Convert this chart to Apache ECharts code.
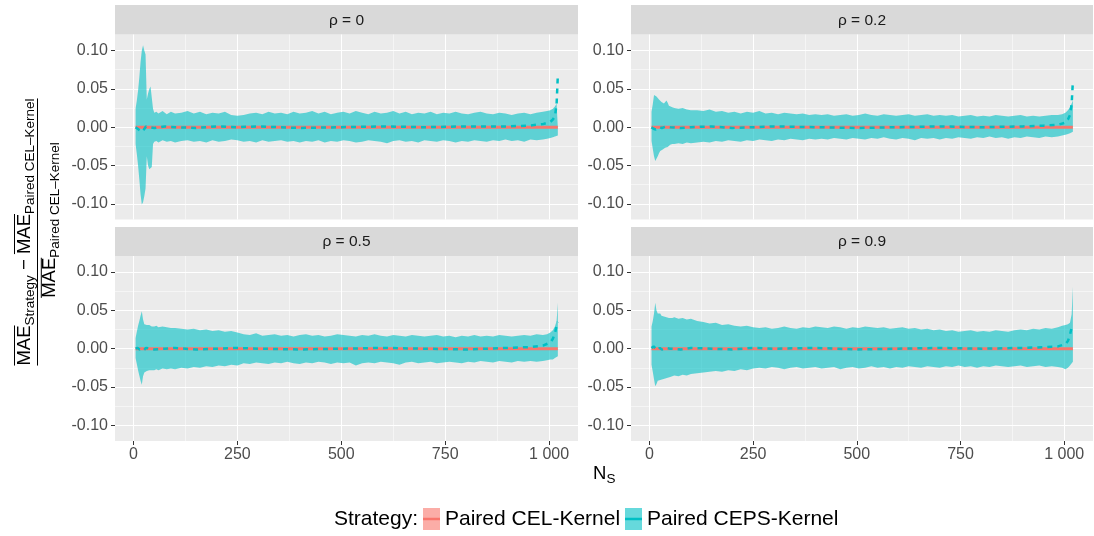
<!DOCTYPE html>
<html>
<head>
<meta charset="utf-8">
<script src="https://cdn.jsdelivr.net/npm/echarts@6.0.0/dist/echarts.min.js"></script>
<style>
  html, body { margin: 0; padding: 0; background: #fff; }
  #chart { width: 1094px; height: 536px; }
</style>
</head>
<body>
<div id="chart"></div>
<script>
// N_S values where the bands were read
var ns = [5, 8, 11, 14, 17, 20, 23, 26, 29, 32, 35, 38, 41, 44, 47, 50, 55, 60, 70, 80, 90, 100,
  115, 130, 145, 160, 175, 190, 205, 220, 235, 250, 265, 280, 295, 310, 325, 340, 355, 370, 385, 400,
  415, 430, 445, 460, 475, 490, 505, 520, 535, 550, 565, 580, 595, 610, 625, 640, 655, 670, 685, 700,
  715, 730, 745, 760, 775, 790, 805, 820, 835, 850, 865, 880, 895, 910, 925, 940, 955, 970,
  985, 995, 1003, 1009, 1014, 1018, 1021];

// rho = 0
var hi0 = [0.024, 0.035, 0.048, 0.065, 0.085, 0.100, 0.107, 0.100, 0.095, 0.036, 0.044, 0.050, 0.053, 0.051, 0.024, 0.019, 0.020, 0.018, 0.021, 0.017, 0.020, 0.018,
  0.019, 0.021, 0.018, 0.020, 0.017, 0.019, 0.018, 0.020, 0.016, 0.015, 0.016, 0.018, 0.019, 0.017, 0.020, 0.018, 0.019, 0.017, 0.020, 0.018,
  0.019, 0.021, 0.018, 0.020, 0.017, 0.019, 0.020, 0.018, 0.021, 0.019, 0.017, 0.020, 0.018, 0.019, 0.021, 0.018, 0.020, 0.017, 0.019, 0.018,
  0.020, 0.017, 0.019, 0.018, 0.020, 0.018, 0.017, 0.019, 0.020, 0.018, 0.017, 0.019, 0.018, 0.016, 0.018, 0.019, 0.017, 0.019,
  0.020, 0.021, 0.022, 0.024, 0.027, 0.031, 0.033];
var lo0 = [-0.022, -0.035, -0.050, -0.068, -0.088, -0.101, -0.098, -0.090, -0.080, -0.038, -0.050, -0.055, -0.056, -0.052, -0.022, -0.019, -0.018, -0.020, -0.017, -0.019, -0.018, -0.020,
  -0.018, -0.017, -0.019, -0.018, -0.020, -0.017, -0.019, -0.018, -0.016, -0.017, -0.019, -0.018, -0.020, -0.017, -0.019, -0.018, -0.017, -0.019, -0.018, -0.020,
  -0.018, -0.019, -0.017, -0.020, -0.018, -0.019, -0.017, -0.018, -0.020, -0.019, -0.017, -0.018, -0.019, -0.021, -0.018, -0.017, -0.019, -0.018, -0.020, -0.017,
  -0.018, -0.019, -0.017, -0.018, -0.020, -0.018, -0.019, -0.017, -0.018, -0.019, -0.017, -0.018, -0.016, -0.018, -0.017, -0.019, -0.016, -0.017,
  -0.016, -0.015, -0.014, -0.013, -0.012, -0.010, -0.011];

// rho = 0.2
var hi1 = [0.020, 0.030, 0.042, 0.044, 0.040, 0.038, 0.036, 0.034, 0.033, 0.032, 0.031, 0.033, 0.035, 0.032, 0.028, 0.027, 0.026, 0.025, 0.024, 0.025, 0.023, 0.022,
  0.022, 0.021, 0.023, 0.020, 0.021, 0.019, 0.020, 0.018, 0.020, 0.019, 0.021, 0.018, 0.019, 0.017, 0.019, 0.018, 0.017, 0.018, 0.016, 0.017,
  0.016, 0.017, 0.015, 0.016, 0.017, 0.015, 0.016, 0.018, 0.016, 0.015, 0.017, 0.016, 0.015, 0.016, 0.017, 0.015, 0.016, 0.017, 0.015, 0.016,
  0.015, 0.016, 0.014, 0.015, 0.016, 0.014, 0.015, 0.014, 0.016, 0.015, 0.014, 0.015, 0.016, 0.014, 0.015, 0.014, 0.015, 0.016,
  0.016, 0.017, 0.019, 0.022, 0.026, 0.031, 0.035];
var lo1 = [-0.018, -0.028, -0.038, -0.044, -0.045, -0.038, -0.034, -0.031, -0.030, -0.029, -0.028, -0.027, -0.026, -0.026, -0.024, -0.023, -0.022, -0.022, -0.021, -0.022, -0.020, -0.021,
  -0.020, -0.019, -0.020, -0.018, -0.019, -0.017, -0.018, -0.019, -0.017, -0.018, -0.016, -0.017, -0.018, -0.016, -0.017, -0.015, -0.016, -0.017, -0.015, -0.016,
  -0.015, -0.016, -0.014, -0.015, -0.016, -0.014, -0.015, -0.016, -0.014, -0.015, -0.013, -0.015, -0.016, -0.014, -0.015, -0.017, -0.014, -0.015, -0.014, -0.016,
  -0.014, -0.015, -0.013, -0.014, -0.015, -0.013, -0.014, -0.012, -0.014, -0.013, -0.015, -0.013, -0.014, -0.012, -0.013, -0.014, -0.012, -0.013,
  -0.012, -0.011, -0.010, -0.009, -0.008, -0.007, -0.006];

// rho = 0.5
var hi2 = [0.014, 0.022, 0.030, 0.036, 0.043, 0.049, 0.038, 0.032, 0.030, 0.031, 0.029, 0.031, 0.030, 0.029, 0.031, 0.029, 0.030, 0.028, 0.029, 0.028, 0.027, 0.027,
  0.026, 0.025, 0.026, 0.024, 0.025, 0.023, 0.024, 0.022, 0.023, 0.021, 0.019, 0.018, 0.020, 0.017, 0.018, 0.019, 0.017, 0.018, 0.016, 0.018,
  0.019, 0.017, 0.018, 0.016, 0.017, 0.019, 0.018, 0.017, 0.016, 0.018, 0.017, 0.019, 0.017, 0.016, 0.018, 0.017, 0.016, 0.018, 0.017, 0.016,
  0.017, 0.018, 0.016, 0.017, 0.015, 0.017, 0.016, 0.018, 0.016, 0.017, 0.016, 0.018, 0.017, 0.016, 0.017, 0.018, 0.017, 0.019,
  0.018, 0.019, 0.021, 0.024, 0.029, 0.036, 0.060];
var lo2 = [-0.012, -0.020, -0.028, -0.035, -0.042, -0.047, -0.036, -0.031, -0.030, -0.029, -0.030, -0.028, -0.029, -0.028, -0.027, -0.028, -0.027, -0.028, -0.026, -0.027, -0.026, -0.027,
  -0.025, -0.026, -0.024, -0.025, -0.023, -0.024, -0.022, -0.023, -0.021, -0.022, -0.019, -0.020, -0.018, -0.019, -0.020, -0.018, -0.019, -0.017, -0.019, -0.020,
  -0.018, -0.019, -0.017, -0.018, -0.020, -0.018, -0.019, -0.018, -0.022, -0.019, -0.018, -0.019, -0.017, -0.018, -0.019, -0.021, -0.018, -0.017, -0.019, -0.018,
  -0.017, -0.019, -0.018, -0.017, -0.018, -0.019, -0.017, -0.018, -0.016, -0.017, -0.018, -0.016, -0.017, -0.018, -0.016, -0.017, -0.016, -0.017,
  -0.016, -0.015, -0.014, -0.014, -0.012, -0.011, -0.010];

// rho = 0.9
var hi3 = [0.029, 0.036, 0.046, 0.060, 0.050, 0.046, 0.044, 0.046, 0.043, 0.045, 0.042, 0.044, 0.041, 0.043, 0.040, 0.042, 0.040, 0.041, 0.039, 0.040, 0.038, 0.039,
  0.036, 0.035, 0.033, 0.034, 0.031, 0.032, 0.030, 0.029, 0.030, 0.028, 0.027, 0.028, 0.026, 0.027, 0.029, 0.027, 0.026, 0.028, 0.027, 0.029,
  0.028, 0.027, 0.029, 0.028, 0.026, 0.028, 0.027, 0.029, 0.028, 0.027, 0.028, 0.026, 0.027, 0.028, 0.026, 0.027, 0.025, 0.026, 0.024, 0.025,
  0.023, 0.024, 0.022, 0.023, 0.024, 0.022, 0.023, 0.022, 0.024, 0.023, 0.022, 0.024, 0.025, 0.024, 0.026, 0.025, 0.027, 0.026,
  0.028, 0.030, 0.031, 0.032, 0.034, 0.045, 0.081];
var lo3 = [-0.021, -0.030, -0.040, -0.049, -0.046, -0.042, -0.040, -0.041, -0.039, -0.040, -0.038, -0.039, -0.037, -0.038, -0.036, -0.037, -0.036, -0.035, -0.036, -0.034, -0.035, -0.033,
  -0.032, -0.031, -0.030, -0.029, -0.030, -0.028, -0.029, -0.027, -0.028, -0.026, -0.025, -0.026, -0.024, -0.025, -0.027, -0.025, -0.024, -0.026, -0.025, -0.024,
  -0.026, -0.025, -0.024, -0.027, -0.025, -0.024, -0.026, -0.025, -0.023, -0.025, -0.024, -0.026, -0.024, -0.025, -0.023, -0.024, -0.025, -0.023, -0.024, -0.025,
  -0.023, -0.024, -0.022, -0.024, -0.023, -0.025, -0.023, -0.024, -0.022, -0.023, -0.024, -0.023, -0.022, -0.024, -0.023, -0.022, -0.024, -0.023,
  -0.024, -0.025, -0.027, -0.025, -0.022, -0.020, -0.017];

// dashed CEPS-Kernel mean lines
var meanNs = [5, 10, 15, 20, 25, 30, 40, 50, 75, 100, 150, 200, 250, 300, 400, 500, 600, 700, 800, 900, 950, 985, 1003, 1009, 1014, 1018, 1021];
var mean0 = [0.000, -0.002, -0.004, -0.006, -0.003, 0.001, 0.000, -0.001, 0.001, 0.000, -0.001, 0.001, 0.000, 0.001, -0.001, 0.000, 0.001, 0.000, 0.001, 0.001, 0.002, 0.004, 0.007, 0.010, 0.014, 0.030, 0.068];
var mean1 = [0.000, -0.002, -0.003, -0.001, 0.000, -0.001, 0.001, 0.000, -0.001, 0.000, 0.001, -0.001, 0.000, 0.001, 0.000, -0.001, 0.000, 0.001, 0.000, 0.001, 0.002, 0.003, 0.006, 0.010, 0.016, 0.030, 0.060];
var mean2 = [0.000, 0.001, -0.001, 0.000, -0.002, 0.001, 0.000, -0.001, 0.000, 0.001, -0.001, 0.000, 0.001, 0.000, -0.001, 0.000, 0.001, 0.000, -0.001, 0.001, 0.002, 0.004, 0.008, 0.013, 0.020, 0.030, 0.035];
var mean3 = [0.001, 0.003, 0.000, -0.002, 0.001, -0.001, 0.001, 0.000, -0.001, 0.001, 0.000, -0.001, 0.001, 0.000, 0.001, -0.001, 0.000, 0.001, 0.000, 0.001, 0.002, 0.003, 0.006, 0.010, 0.018, 0.028, 0.032];

// CEL-Kernel against itself: flat at zero
var celNs = [5, 1021];
var celVal = [0, 0];

var panelLabels = ['ρ = 0', 'ρ = 0.2', 'ρ = 0.5', 'ρ = 0.9'];
var xTicks = [0, 250, 500, 750, 1000];
var xTickLabels = ['0', '250', '500', '750', '1 000'];
var xMinorTicks = [125, 375, 625, 875];
var yTicks = [-0.1, -0.05, 0, 0.05, 0.1];
var yTickLabels = ['-0.10', '-0.05', '0.00', '0.05', '0.10'];
var yMinorTicks = [-0.075, -0.025, 0.025, 0.075];

var FONT = 'Liberation Sans, Arial, Helvetica, sans-serif';
var TEAL = '#00BFC4', RED = '#F8766D';
var bandFill = 'rgba(0,191,196,0.6)';

// left, top, width, height of each panel
var gridPos = [[115, 34.5, 463, 185], [631, 34.5, 462, 185], [115, 256, 463, 185], [631, 256, 462, 185]];
var panelData = [[hi0, lo0, mean0], [hi1, lo1, mean1], [hi2, lo2, mean2], [hi3, lo3, mean3]];

function pairs(xs, ys) {
  return xs.map(function (x, k) { return [x, ys[k]]; });
}
function lookup(vals, labels, v) {
  for (var k = 0; k < vals.length; k++) if (Math.abs(vals[k] - v) < 1e-9) return labels[k];
  return '';
}

var grids = [], xAxes = [], yAxes = [], series = [], graphics = [];

gridPos.forEach(function (g, i) {
  var bottom = i >= 2;
  grids.push({ left: g[0], top: g[1], width: g[2], height: g[3], show: true, backgroundColor: '#EBEBEB', borderWidth: 0 });

  xAxes.push({
    gridIndex: i, type: 'value', min: -44.5, max: 1069.5, position: 'bottom',
    axisLine: { show: false, onZero: false },
    axisTick: { show: bottom, customValues: xTicks, length: 4, lineStyle: { color: '#333333', width: 1 } },
    axisLabel: { show: bottom, customValues: xTicks, color: '#4D4D4D', fontSize: 16, fontFamily: FONT, margin: 6,
      formatter: function (v) { return lookup(xTicks, xTickLabels, v); } },
    splitLine: { show: true, lineStyle: { color: '#FFFFFF', width: 1.1 } }
  });
  xAxes.push({
    gridIndex: i, type: 'value', min: -44.5, max: 1069.5, position: 'top',
    axisLine: { show: false, onZero: false }, axisLabel: { show: false },
    axisTick: { show: false, customValues: xMinorTicks },
    splitLine: { show: true, lineStyle: { color: '#FFFFFF', width: 0.5 } }
  });
  yAxes.push({
    gridIndex: i, type: 'value', min: -0.1205, max: 0.121, position: 'left',
    axisLine: { show: false, onZero: false },
    axisTick: { show: true, customValues: yTicks, length: 4, lineStyle: { color: '#333333', width: 1 } },
    axisLabel: { customValues: yTicks, color: '#4D4D4D', fontSize: 16, fontFamily: FONT, margin: 7,
      formatter: function (v) { return lookup(yTicks, yTickLabels, v); } },
    splitLine: { show: true, lineStyle: { color: '#FFFFFF', width: 1.1 } }
  });
  yAxes.push({
    gridIndex: i, type: 'value', min: -0.1205, max: 0.121, position: 'right',
    axisLine: { show: false, onZero: false }, axisLabel: { show: false },
    axisTick: { show: false, customValues: yMinorTicks },
    splitLine: { show: true, lineStyle: { color: '#FFFFFF', width: 0.5 } }
  });

  var d = panelData[i];
  // ribbon: upper and lower edges each filled to zero
  [d[0], d[1]].forEach(function (edge) {
    series.push({
      type: 'line', name: 'Paired CEPS-Kernel', xAxisIndex: 2 * i, yAxisIndex: 2 * i,
      data: pairs(ns, edge), symbol: 'none', silent: true,
      lineStyle: { opacity: 0 }, areaStyle: { color: bandFill, opacity: 1 }
    });
  });
  series.push({
    type: 'line', name: 'Paired CEL-Kernel', xAxisIndex: 2 * i, yAxisIndex: 2 * i,
    data: pairs(celNs, celVal), symbol: 'none', silent: true,
    lineStyle: { color: RED, width: 3 }
  });
  series.push({
    type: 'line', name: 'Paired CEPS-Kernel', xAxisIndex: 2 * i, yAxisIndex: 2 * i,
    data: pairs(meanNs, d[2]), symbol: 'none', silent: true,
    lineStyle: { color: TEAL, width: 2.5, type: [5, 5] }
  });

  // facet strip
  var stripTop = bottom ? 227 : 5;
  var stripH = g[1] - stripTop;
  graphics.push({ type: 'rect', shape: { x: g[0], y: stripTop, width: g[2], height: stripH }, style: { fill: '#D9D9D9' } });
  graphics.push({ type: 'text', x: g[0] + g[2] / 2, y: stripTop + stripH / 2 + 0.5,
    style: { text: panelLabels[i], font: '15.5px ' + FONT, fill: '#1A1A1A', align: 'center', verticalAlign: 'middle', textAlign: 'center', textVerticalAlign: 'middle' } });
});

// y axis title: (MAE_Strategy - MAE_Paired) / MAE_Paired, rotated
var meas = document.createElement('canvas').getContext('2d');
function tw(s, size) { meas.font = size + 'px ' + FONT; return meas.measureText(s).width; }
var F = 18.5, f = 13.5;
var numParts = [['MAE', F, true], ['Strategy', f, false], [' \u2212 ', F, false], ['MAE', F, true], ['Paired CEL\u2013Kernel', f, false]];
var denParts = [['MAE', F, true], ['Paired CEL\u2013Kernel', f, false]];
var titleKids = [];
function addRow(parts, shift, mainY, subY, barY) {
  var total = 0;
  parts.forEach(function (p) { total += tw(p[0], p[1]); });
  var pos = -total / 2 + shift;
  parts.forEach(function (p) {
    var w = tw(p[0], p[1]);
    titleKids.push({ type: 'text', x: pos, y: p[1] === F ? mainY : subY,
      style: { text: p[0], font: p[1] + 'px ' + FONT, fill: '#000', align: 'left', verticalAlign: 'middle', textAlign: 'left', textVerticalAlign: 'middle' } });
    if (p[2]) titleKids.push({ type: 'line', shape: { x1: pos, y1: barY, x2: pos + w, y2: barY }, style: { stroke: '#000', lineWidth: 1 } });
    pos += w;
  });
  return total;
}
var numW = addRow(numParts, 0, -12.5, -7.5, -23);
addRow(denParts, 12, 12.2, 17.4, 3.8);
titleKids.push({ type: 'line', shape: { x1: -numW / 2, y1: 0, x2: numW / 2, y2: 0 }, style: { stroke: '#000', lineWidth: 1 } });
graphics.push({ type: 'group', x: 37.5, y: 232, rotation: Math.PI / 2, children: titleKids });

// x axis title N_S
graphics.push({ type: 'text', x: 593, y: 473.5, style: { text: 'N', font: F + 'px ' + FONT, fill: '#000', align: 'left', verticalAlign: 'middle', textAlign: 'left', textVerticalAlign: 'middle' } });
graphics.push({ type: 'text', x: 606.5, y: 479, style: { text: 'S', font: f + 'px ' + FONT, fill: '#000', align: 'left', verticalAlign: 'middle', textAlign: 'left', textVerticalAlign: 'middle' } });

// legend title and key lines
graphics.push({ type: 'text', x: 334, y: 519, style: { text: 'Strategy:', font: '21px ' + FONT, fill: '#000', align: 'left', verticalAlign: 'middle', textAlign: 'left', textVerticalAlign: 'middle' } });
graphics.push({ type: 'line', z: 100, shape: { x1: 423, y1: 519, x2: 440, y2: 519 }, style: { stroke: RED, lineWidth: 2.5 } });
graphics.push({ type: 'line', z: 100, shape: { x1: 625, y1: 519, x2: 642, y2: 519 }, style: { stroke: TEAL, lineWidth: 2.5 } });

var legendText = { fontSize: 21, color: '#000', fontFamily: FONT };
var option = {
  animation: false,
  backgroundColor: '#FFFFFF',
  grid: grids,
  xAxis: xAxes,
  yAxis: yAxes,
  legend: [
    { left: 423, top: 508, padding: 0, itemWidth: 17, itemHeight: 22, itemGap: 5, selectedMode: false, textStyle: legendText,
      data: [{ name: 'Paired CEL-Kernel', icon: 'rect', itemStyle: { color: 'rgba(248,118,109,0.6)', borderWidth: 0 } }] },
    { left: 625, top: 508, padding: 0, itemWidth: 17, itemHeight: 22, itemGap: 5, selectedMode: false, textStyle: legendText,
      data: [{ name: 'Paired CEPS-Kernel', icon: 'rect', itemStyle: { color: bandFill, borderWidth: 0 } }] }
  ],
  graphic: { elements: graphics },
  series: series
};

var myChart = echarts.init(document.getElementById('chart'));
myChart.setOption(option);
window.onresize = function () { myChart.resize(); };
</script>
</body>
</html>
